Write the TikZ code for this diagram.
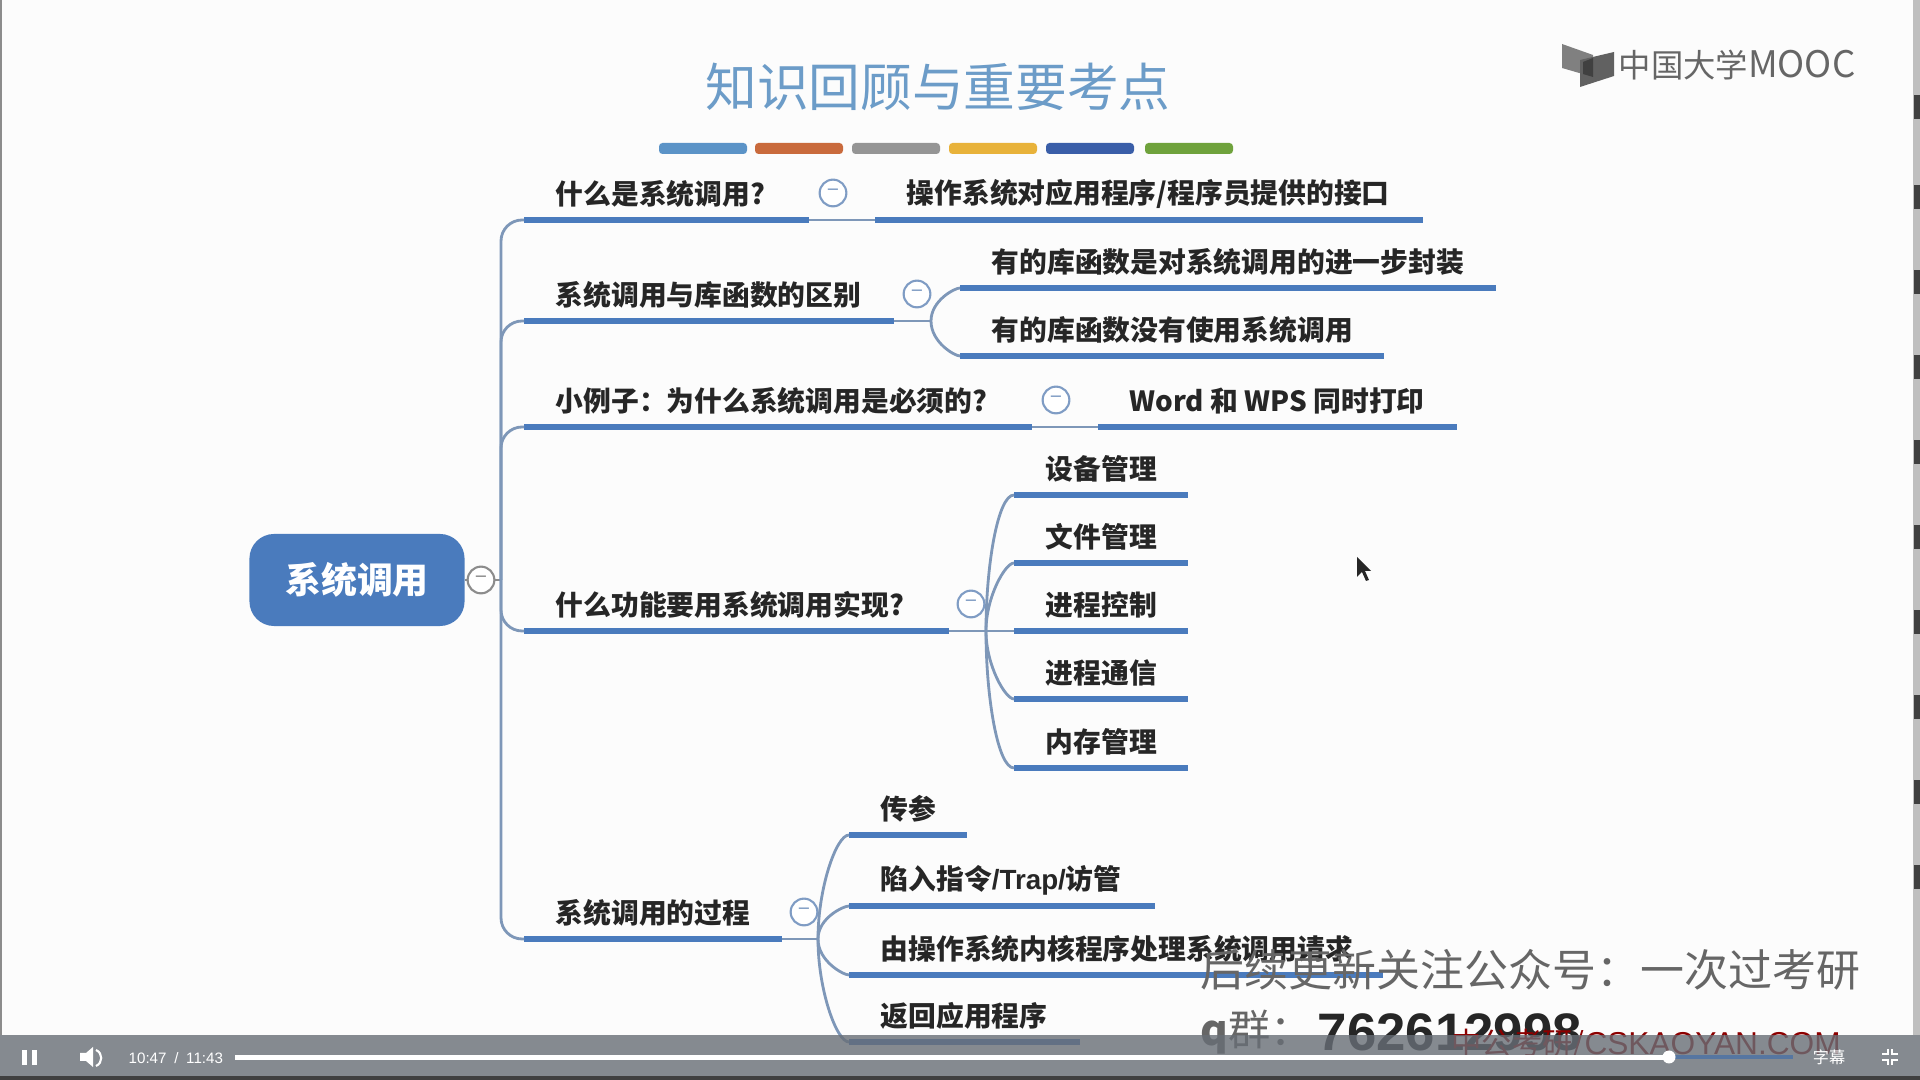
\documentclass[tikz,border=0pt]{standalone}
\usepackage{fontspec}
\setmainfont{Noto Sans CJK SC}
\newfontfamily\latinfont{Liberation Sans}
\usetikzlibrary{positioning}
\definecolor{cline}{HTML}{4A7BBD}
\definecolor{cconn}{HTML}{7E97B8}
\definecolor{cmark}{HTML}{7F9CC4}
\definecolor{cbar}{HTML}{686E76}
\definecolor{ctitle}{HTML}{6C9CC8}
\newcommand{\cnsize}{\fontsize{7.9}{9}\selectfont}
\tikzset{
  topic/.style={anchor=west, inner sep=0pt, font=\cnsize\bfseries, text=black!85},
  uline/.style={draw=cline, line width=1.6pt},
  conn/.style={draw=cconn, line width=0.8pt},
  twig/.style={out=#1, in=180, out looseness=1.2, in looseness=0.3},
  fold/.style={circle, draw=cmark, fill=white, line width=0.6pt, minimum size=7.6pt, inner sep=0pt, font=\fontsize{6}{6}\selectfont, text=cmark},
  wmark/.style={anchor=west, inner sep=0pt, text=black!55},
  ctrl/.style={inner sep=0pt, text=white},
}
\begin{document}
\begin{tikzpicture}[x=0.01cm, y=-0.01cm]
  \useasboundingbox (0,0) rectangle (1920,1080);
  \fill[white!99!black] (0,0) rectangle (1920,1080);
  % page edges
  \fill[black!45] (0,0) rectangle (2,1035);
  \fill[black!25] (1913,0) rectangle (1920,1035);
  \foreach \y in {95,185,270,355,440,525,610,695,780,865}
    \fill[black!75] (1914,\y) rectangle (1920,\y+24);
  % title
  \node[inner sep=0pt, font=\fontsize{14.7}{18}\selectfont, text=ctitle] (title) at (938,87) {知识回顾与重要考点};
  \foreach \x/\c in {659/5B93C7, 755/C96A3C, 852/959595, 949/E8B23A, 1046/3A5EA8, 1145/6FA23C} {
    \definecolor{cstripe}{HTML}{\c}
    \fill[cstripe, rounded corners=1pt] (\x,143) rectangle (\x+88,154);
  }
  % logo
  \fill[black!50] (1562,44) -- (1593,55) -- (1593,77) -- (1562,68) -- cycle;
  \fill[black!62] (1580,60) -- (1614,52) -- (1614,76) -- (1580,87) -- cycle;
  \fill[black!75] (1583,62) -- (1593,58) -- (1593,77) -- (1583,74) -- cycle;
  \node[anchor=west, inner sep=0pt, font=\fontsize{9.2}{10}\selectfont, text=black!60] (logo) at (1618,65) {中国大学{\fontsize{10.4}{10}\selectfont MOOC}};
  % root
  \node[fill=cline, rounded corners=7pt, inner sep=0pt, text=white, font=\fontsize{10.2}{10}\selectfont\bfseries, minimum width=2.15cm, minimum height=0.92cm] (root) at (357,580) {系统调用};
  \node[fold, draw=black!45, text=black!45] (rootm) at (481,580) {−};
  \coordinate (trunk) at (501,580);
  \draw[conn, draw=black!45] (root) -- (rootm);
  \draw[conn, draw=black!45] (rootm) -- (trunk);
  % underlined topics
  \foreach \n/\xa/\xb/\y/\t in {
      a/524/809/220/{什么是系统调用?},
      aa/875/1423/220/{操作系统对应用程序/程序员提供的接口},
      b/524/894/321/{系统调用与库函数的区别},
      ba/960/1496/288/{有的库函数是对系统调用的进一步封装},
      bb/960/1384/356/{有的库函数没有使用系统调用},
      c/524/1032/427/{小例子：为什么系统调用是必须的?},
      ca/1098/1457/427/{Word 和 WPS 同时打印},
      d/524/949/631/{什么功能要用系统调用实现?},
      da/1014/1188/495/{设备管理},
      db/1014/1188/563/{文件管理},
      dc/1014/1188/631/{进程控制},
      dd/1014/1188/699/{进程通信},
      de/1014/1188/768/{内存管理},
      e/524/782/939/{系统调用的过程},
      ea/849/967/835/{传参},
      eb/849/1155/906/{陷入指令{\latinfont /Trap/}访管},
      ec/849/1383/975/{由操作系统内核程序处理系统调用请求},
      ed/849/1080/1042/{返回应用程序}} {
    \coordinate (\n-w) at (\xa,\y);
    \coordinate (\n-e) at (\xb,\y);
    \node[topic] (\n) at (\xa+31,\y-26) {\t};
    \draw[uline] (\n-w) -- (\n-e);
  }
  % collapse marks
  \foreach \n/\x/\y in {am/833/193, bm/917/294, cm/1056/400, dm/971/604, em/804/912}
    \node[fold] (\n) at (\x,\y) {−};
  % trunk
  \foreach \n in {a,b,c,d,e}
    \draw[conn, rounded corners=6pt] (trunk) |- (\n-w);
  % branches
  \draw[conn] (a-e) -- (aa-w);
  \draw[conn] (c-e) -- (ca-w);
  \coordinate (bs) at (931,321);
  \coordinate (ds) at (986,631);
  \coordinate (es) at (818,939);
  \draw[conn] (b-e) -- (bs);
  \draw[conn] (d-e) -- (dc-w);
  \draw[conn] (e-e) -- (es);
  \foreach \n/\a in {ba/90, bb/-90}
    \draw[conn] (bs) to[twig=\a] (\n-w);
  \foreach \n/\a in {da/90, db/90, dd/-90, de/-90}
    \draw[conn] (ds) to[twig=\a] (\n-w);
  \foreach \n/\a in {ea/90, eb/90, ec/-90, ed/-90}
    \draw[conn] (es) to[twig=\a] (\n-w);
  % cursor
  \fill[black!85] (1357,557) -- (1357,577) -- (1362,572) -- (1366,581) -- (1369,580) -- (1365,571) -- (1371,571) -- cycle;
  % watermark
  \node[wmark, font=\fontsize{12.5}{14}\selectfont, text=black!60] (wa) at (1200,970) {后续更新关注公众号：一次过考研};
  \node[wmark, font=\fontsize{12}{14}\selectfont, text=black!60] (wb) at (1200,1032) {\textbf{q}群：};
  \node[wmark, font=\latinfont\fontsize{15}{16}\selectfont\bfseries, text=black!85] (wc) at (1317,1032) {762612998};
  \node[wmark, font=\fontsize{8.6}{10}\selectfont, text=red!55!black] (wd) at (1451,1045) {中公考研/{\latinfont\fontsize{9}{10}\selectfont CSKAOYAN.COM}};
  % player bar
  \fill[cbar, opacity=0.8] (0,1035) rectangle (1920,1076);
  \fill[black!75] (0,1076) rectangle (1920,1080);
  \fill[white] (22,1050) rectangle (27,1065);
  \fill[white] (32,1050) rectangle (37,1065);
  \fill[white] (80,1053) -- (86,1053) -- (93,1047) -- (93,1067) -- (86,1061) -- (80,1061) -- cycle;
  \draw[white, line width=0.6pt] (96,1050) .. controls (103,1053) and (103,1063) .. (96,1066);
  \node[ctrl, anchor=west, font=\latinfont\fontsize{4.3}{6}\selectfont] (time) at (128,1058) {10:47\hspace{2.2pt}/\hspace{2.2pt}11:43};
  \fill[cline!60!cbar] (1669,1055) rectangle (1793,1059);
  \fill[white] (235,1055) rectangle (1669,1060);
  \fill[white] (1669,1057) circle (6.5);
  \node[ctrl, font=\fontsize{4.6}{6}\selectfont] (subs) at (1829,1057) {字幕};
  \draw[white, line width=0.8pt] (1882,1054) -- (1888,1054) -- (1888,1049) (1898,1054) -- (1892,1054) -- (1892,1049) (1882,1060) -- (1888,1060) -- (1888,1065) (1898,1060) -- (1892,1060) -- (1892,1065);
\end{tikzpicture}
\end{document}
